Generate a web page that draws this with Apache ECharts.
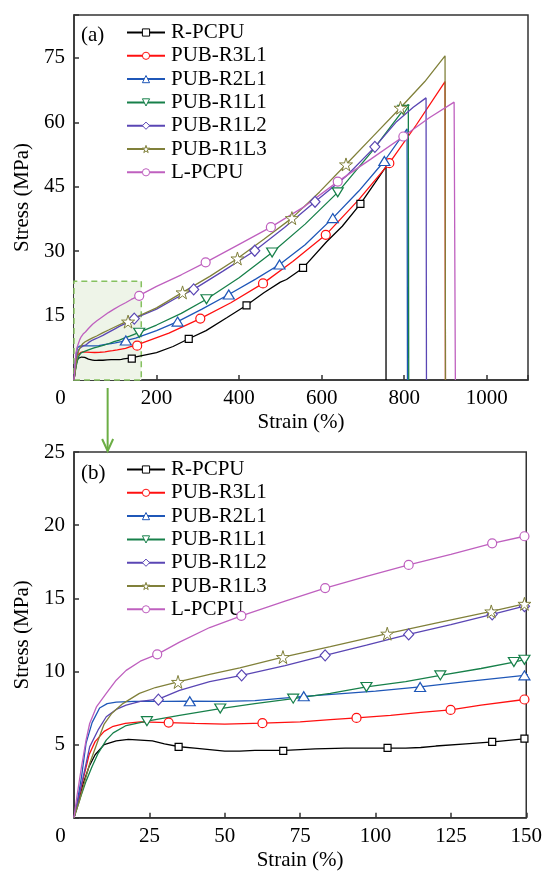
<!DOCTYPE html>
<html><head><meta charset="utf-8">
<script src="https://cdn.jsdelivr.net/npm/echarts@6/dist/echarts.min.js"></script>
<style>html,body{margin:0;padding:0;background:#fff}#c{width:545px;height:872px}</style>
</head><body><div id="c"></div>
<script>
// ---------- DATA ----------
const sampleNames = ['R-PCPU','PUB-R3L1','PUB-R2L1','PUB-R1L1','PUB-R1L2','PUB-R1L3','L-PCPU'];
const xTicksFull = [0,200,400,600,800,1000];
const yTicksFull = [0,15,30,45,60,75];
const xTicksZoom = [0,25,50,75,100,125,150];
const yTicksZoom = [0,5,10,15,20,25];
const zoomBox = [[0,0],[163,23]];

// stress–strain curves [strain %, stress MPa]
const rpcpuCurve = [[0,0],[1,0.8],[3,2.3],[5,3.5],[7,4.3],[10,5.0],[14,5.25],[18,5.35],[22,5.3],[26,5.25],[30,5.05],[35,4.85],[40,4.75],[45,4.65],[50,4.55],[55,4.55],[60,4.6],[65,4.6],[70,4.6],[80,4.7],[90,4.75],[100,4.75],[110,4.75],[115,4.8],[120,4.9],[130,5.05],[139,5.18],[150,5.4],[200,6.4],[240,7.8],[278,9.6],[320,11.5],[370,14.5],[418,17.4],[460,20.3],[500,22.8],[515,23.4],[555,26.1],[612,32.2],[650,35.8],[694,41],[730,46],[756,49.7],[756,0]];
const r3l1Curve = [[0,0],[1,0.8],[3,2.6],[5,4.3],[7,5.2],[10,5.9],[13,6.25],[17,6.45],[22,6.55],[31.4,6.5],[40,6.45],[50,6.4],[62.5,6.46],[75,6.55],[85,6.7],[93.7,6.82],[105,7.0],[115,7.2],[124.9,7.37],[135,7.7],[149.4,8.08],[230,10.9],[306,14.3],[380,18],[458,22.5],[530,27.6],[610,33.8],[690,42],[764,50.5],[830,59.5],[899,69.5],[900,0]];
const r2l1Curve = [[0,0],[1,1],[2.5,2.8],[4,5.1],[6,6.5],[8.5,7.5],[11,7.8],[14,7.9],[20,7.95],[30,7.95],[38.4,7.96],[50,7.95],[60,8.0],[76.2,8.3],[90,8.5],[100,8.65],[114.8,8.94],[130,9.3],[149.4,9.73],[200,11.5],[251,13.6],[310,16.5],[375,19.9],[440,23.5],[498,26.9],[560,31.5],[627,37.7],[690,44],[752,51],[807,58.5],[808,0]];
const r1l1Curve = [[0,0],[2,1.3],[4,2.5],[6,3.5],[8,4.4],[10.7,5.3],[13,5.8],[17.3,6.3],[24.2,6.6],[35,7.0],[48.5,7.46],[60,7.8],[72.7,8.14],[85,8.5],[97,8.94],[110,9.3],[121.5,9.73],[135,10.2],[145.9,10.64],[149.4,10.8],[200,12.8],[260,15.5],[321,18.8],[400,23.8],[480,29.7],[560,36.3],[639,43.7],[720,53],[798,62.9],[810,64.2],[811,0]];
const r1l2Curve = [[0,0],[2,1.8],[4,3.7],[5.2,4.84],[8,6.0],[10.7,6.9],[14,7.4],[17.3,7.7],[22,7.95],[28,8.1],[35,8.7],[45,9.3],[55.6,9.73],[70,10.4],[83.3,11.1],[97,11.8],[111,12.53],[125,13.2],[138.7,13.9],[149.4,14.46],[200,16.5],[250,19.2],[290,21.1],[360,25.3],[438,30.1],[510,35.5],[584,41.5],[660,47.5],[729,54.3],[780,60],[822,63.5],[853,65.7],[854,0]];
const r1l3Curve = [[0,0],[2,1.3],[4,2.8],[5.2,3.7],[8,5.3],[10,6.4],[12.4,7.1],[16.2,7.8],[21.7,8.5],[27,8.9],[34.5,9.28],[45,9.8],[55,10.25],[69.3,10.98],[85,11.7],[103.9,12.58],[120,13.3],[138.4,14.1],[149.4,14.62],[200,16.8],[263,20.4],[330,24.2],[396,28.3],[460,32.8],[528,37.7],[595,43.8],[659,50.2],[725,56.8],[791,63.4],[850,69.5],[899,75.5],[900,0]];
const lpcpuCurve = [[0,0],[1,1.5],[2.5,3.5],[4,5.3],[5.2,6.44],[7.5,7.6],[10.7,8.5],[14,9.4],[17.3,10.07],[22,10.7],[27.6,11.17],[35,12.0],[45,13.0],[55.5,13.8],[70,14.8],[83.3,15.7],[97,16.5],[111,17.28],[125,18.0],[138.7,18.76],[149.4,19.24],[200,21.8],[260,24.5],[319,27.4],[400,31.6],[477,35.6],[560,40.5],[639,46.2],[720,51.5],[798,56.7],[860,61],[921,64.7],[924,0]];

// marker points, full view (a)
const rpcpuMarkFull = [[140,4.96],[278,9.6],[418,17.4],[555,26.1],[694,41]];
const r3l1MarkFull = [[153,8.0],[306,14.3],[458,22.5],[610,33.8],[764,50.5]];
const r2l1MarkFull = [[125.6,9.2],[251,13.6],[375,19.9],[498,26.9],[627,37.7],[752,51]];
const r1l1MarkFull = [[158,11.0],[321,18.8],[480,29.7],[639,43.7],[798,62.9]];
const r1l2MarkFull = [[146,14.3],[290,21.1],[438,30.1],[584,41.5],[729,54.3]];
const r1l3MarkFull = [[131,13.6],[263,20.4],[396,28.3],[528,37.7],[659,50.2],[791,63.4]];
const lpcpuMarkFull = [[158,19.6],[319,27.4],[477,35.6],[639,46.2],[798,56.7]];

// marker points, zoomed view (b)
const rpcpuMarkZoom = [[34.7,4.84],[69.4,4.57],[104,4.78],[138.7,5.18],[149.4,5.41]];
const r3l1MarkZoom = [[31.4,6.5],[62.5,6.46],[93.7,6.82],[124.9,7.37],[149.4,8.08]];
const r2l1MarkZoom = [[38.4,7.96],[76.2,8.3],[114.8,8.94],[149.4,9.73]];
const r1l1MarkZoom = [[24.2,6.6],[48.5,7.46],[72.7,8.14],[97,8.94],[121.5,9.73],[145.9,10.64],[149.4,10.8]];
const r1l2MarkZoom = [[28,8.07],[55.6,9.73],[83.3,11.1],[111,12.53],[138.7,13.9],[149.4,14.46]];
const r1l3MarkZoom = [[34.5,9.28],[69.3,10.98],[103.9,12.58],[138.4,14.1],[149.4,14.62]];
const lpcpuMarkZoom = [[27.6,11.17],[55.5,13.8],[83.3,15.7],[111,17.28],[138.7,18.76],[149.4,19.24]];

// ---------- STYLE ----------
const STAR = 'path://M50,0 L61,35 L98,35 L68,57 L79,91 L50,70 L21,91 L32,57 L2,35 L39,35 Z';
const styles = [
  {color:'#000000', symbol:'rect', size:7, rotate:0, bw:1.2},
  {color:'#ff1010', symbol:'circle', size:9, rotate:0, bw:1.2},
  {color:'#1f57b8', symbol:'triangle', size:[11,9], rotate:0, bw:1.2},
  {color:'#17804a', symbol:'triangle', size:[11,9], rotate:180, bw:1.2},
  {color:'#5a46b4', symbol:'diamond', size:[10,11], rotate:0, bw:1.2},
  {color:'#80803a', symbol:STAR, size:13, rotate:0, bw:1.0},
  {color:'#bf60bf', symbol:'circle', size:9, rotate:0, bw:1.2}
];
const curves = [rpcpuCurve, r3l1Curve, r2l1Curve, r1l1Curve, r1l2Curve, r1l3Curve, lpcpuCurve];
const marksFull = [rpcpuMarkFull, r3l1MarkFull, r2l1MarkFull, r1l1MarkFull, r1l2MarkFull, r1l3MarkFull, lpcpuMarkFull];
const marksZoom = [rpcpuMarkZoom, r3l1MarkZoom, r2l1MarkZoom, r1l1MarkZoom, r1l2MarkZoom, r1l3MarkZoom, lpcpuMarkZoom];

const FONT = 'Liberation Serif';
const FS = 21;
const AX = '#333333';
function txt(extra){
  return Object.assign({fontFamily:FONT, fontSize:FS, fontWeight:'normal', fontStyle:'normal', color:'#000'}, extra || {});
}

function tickFmt(ticks){
  return function(v){
    if (v === 0) return '';
    return ticks.indexOf(v) >= 0 ? String(v) : '';
  };
}
function xFmt(ticks){
  return function(v){
    if (v === 0) return '{z|0}';
    return ticks.indexOf(v) >= 0 ? String(v) : '';
  };
}
function xAxis(idx, ticks){
  return {
    type:'value', gridIndex: idx, min: ticks[0], max: idx===0 ? 1100 : 150, interval: ticks[1]-ticks[0],
    name:'Strain (%)', nameLocation:'middle', nameGap:32,
    nameTextStyle:txt(),
    axisLine:{show:true, onZero:false, lineStyle:{color:AX, width:1.5}},
    axisTick:{show:true, inside:true, length:5, lineStyle:{color:AX, width:1.5}},
    axisLabel:txt({margin:8, formatter:xFmt(ticks), rich:{z:txt({padding:[0,27,0,0]})}}),
    splitLine:{show:false}
  };
}
function yAxis(idx, ticks, max){
  return {
    type:'value', gridIndex: idx, min: ticks[0], max: max, interval: ticks[1]-ticks[0],
    name:'Stress (MPa)', nameLocation:'middle', nameGap:38,
    nameTextStyle:txt(),
    axisLine:{show:true, onZero:false, lineStyle:{color:AX, width:1.5}},
    axisTick:{show:true, inside:true, length:5, lineStyle:{color:AX, width:1.5}},
    axisLabel:txt({margin:9, formatter:tickFmt(ticks)}),
    splitLine:{show:false}
  };
}

const series = [];
[0,1].forEach(function(g){
  sampleNames.forEach(function(name, i){
    const s = styles[i];
    series.push({
      type:'line', name:name, xAxisIndex:g, yAxisIndex:g, data:curves[i],
      showSymbol:false, symbol:s.symbol, symbolSize:s.size, symbolRotate:s.rotate,
      lineStyle:{color:s.color, width:1.3}, itemStyle:{color:'#ffffff', borderColor:s.color, borderWidth:1},
      smooth:false, clip:true, z:3, silent:true, emphasis:{disabled:true}
    });
  });
  sampleNames.forEach(function(name, i){
    const s = styles[i];
    series.push({
      type:'scatter', name:name, xAxisIndex:g, yAxisIndex:g, data: g===0 ? marksFull[i] : marksZoom[i],
      symbol:s.symbol, symbolSize:s.size, symbolRotate:s.rotate,
      itemStyle:{color:'#ffffff', borderColor:s.color, borderWidth:s.bw, opacity:1},
      clip:false, z:4, silent:true, emphasis:{disabled:true}
    });
  });
});
// zoom-region box on view (a)
series.push({
  type:'line', name:'zoombox', xAxisIndex:0, yAxisIndex:0, data:[], z:1, silent:true,
  markArea:{silent:true, z:1, itemStyle:{color:'#eef4e8', borderColor:'#86c160', borderWidth:1.5, borderType:[6,4]},
    data:[[{coord:zoomBox[0]},{coord:zoomBox[1]}]]}
});

function legend(top){
  return {
    data: sampleNames.map(function(n, i){
      return {name:n, itemStyle:{color:'#ffffff', borderColor:styles[i].color, borderWidth:1}};
    }),
    orient:'vertical', left:121, top:top, itemWidth:38, itemHeight:9, itemGap:2.3,
    selectedMode:false,
    textStyle:txt({padding:[0,0,0,1]})
  };
}

const chart = echarts.init(document.getElementById('c'), null, {renderer:'canvas'});
const labelA = {type:'text', left:81, top:25, style:{text:'(a)', font:"21px 'Liberation Serif', serif", fill:'#000'}};
const labelB = {type:'text', left:81, top:463, style:{text:'(b)', font:"21px 'Liberation Serif', serif", fill:'#000'}};
const option = {
  animation:false,
  backgroundColor:'#ffffff',
  textStyle:{fontFamily:FONT},
  grid:[
    {left:74, right:17, top:15, height:365, show:true, borderColor:AX, borderWidth:1.5, backgroundColor:'transparent'},
    {left:74, right:17, top:452, height:365.7, show:true, borderColor:AX, borderWidth:1.5, backgroundColor:'transparent'}
  ],
  xAxis:[xAxis(0, xTicksFull), xAxis(1, xTicksZoom)],
  yAxis:[yAxis(0, yTicksFull, 85), yAxis(1, yTicksZoom, 25)],
  legend:[legend(17), legend(454)],
  series: series,
  graphic:[labelA, labelB]
};
chart.setOption(option);

// arrow from the zoom box (a) to view (b)
const midX = (zoomBox[0][0] + zoomBox[1][0]) / 2;
const pTop = chart.convertToPixel({gridIndex:0}, [midX, 0]);
const pBot = chart.convertToPixel({gridIndex:1}, [0, yTicksZoom[yTicksZoom.length-1]]);
const ax = pTop[0], y0 = pTop[1] + 8, y1 = pBot[1];
chart.setOption({graphic:[
  labelA, labelB,
  {type:'line', shape:{x1:ax, y1:y0, x2:ax, y2:y1-1}, style:{stroke:'#6cae45', lineWidth:2}, z:10},
  {type:'polyline', shape:{points:[[ax-5.5, y1-13],[ax, y1-1],[ax+5.5, y1-13]]}, style:{stroke:'#6cae45', lineWidth:2, fill:null}, z:10}
]}, {replaceMerge:['graphic']});
</script>
</body></html>
